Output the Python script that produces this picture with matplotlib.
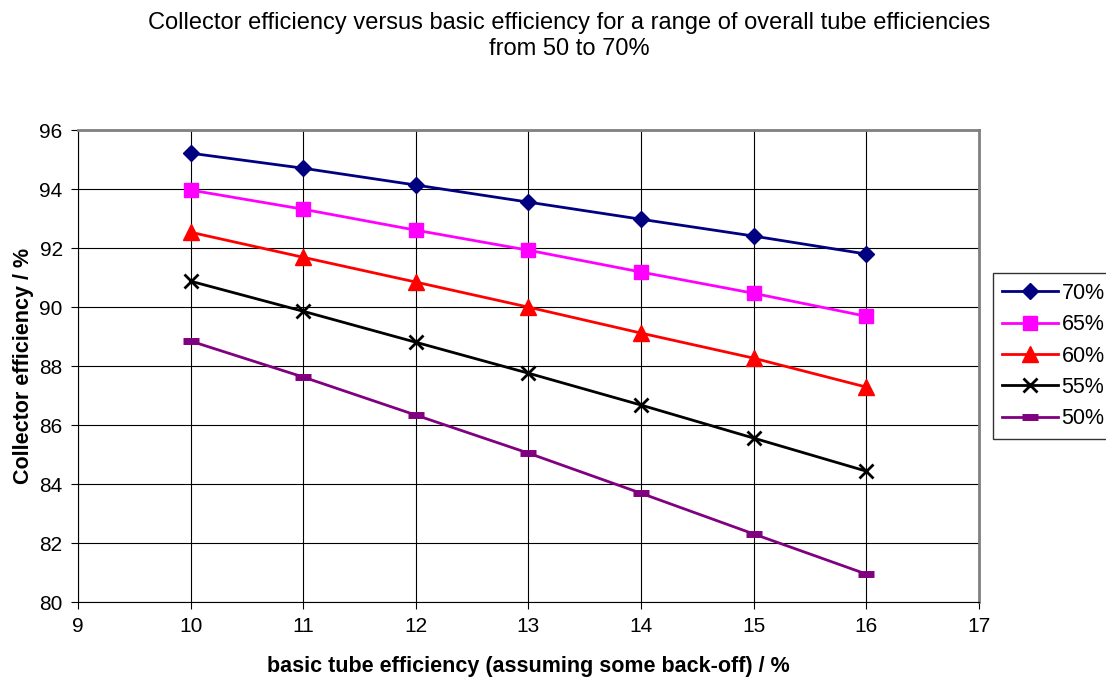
import matplotlib
matplotlib.use("Agg")
import matplotlib.pyplot as plt

plt.rcParams['font.family'] = ['Liberation Sans', 'DejaVu Sans']

basic_eff = [10, 11, 12, 13, 14, 15, 16]
eff_70 = [95.22, 94.71, 94.14, 93.56, 92.98, 92.41, 91.80]
eff_65 = [93.97, 93.32, 92.61, 91.93, 91.19, 90.47, 89.69]
eff_60 = [92.54, 91.69, 90.85, 90.00, 89.12, 88.27, 87.29]
eff_55 = [90.88, 89.86, 88.81, 87.76, 86.68, 85.56, 84.44]
eff_50 = [88.85, 87.63, 86.34, 85.05, 83.69, 82.31, 80.95]

fig = plt.figure(figsize=(11.06, 6.78), dpi=100)
ax = fig.add_axes([0.0705, 0.112, 0.8145, 0.696])

ax.plot(basic_eff, eff_70, color='#000080', lw=2, marker='D', ms=8, label='70%')
ax.plot(basic_eff, eff_65, color='#FF00FF', lw=2, marker='s', ms=10, label='65%')
ax.plot(basic_eff, eff_60, color='#FF0000', lw=2, marker='^', ms=11, label='60%')
ax.plot(basic_eff, eff_55, color='#000000', lw=2, marker='x', ms=10, mew=2, label='55%')
ax.plot(basic_eff, eff_50, color='#800080', lw=2, marker='_', ms=12, mew=5, label='50%')

ax.set_xlim(9, 17)
ax.set_ylim(80, 96)
ax.set_xticks(range(9, 18))
ax.set_yticks(range(80, 97, 2))
ax.grid(True, color='#000000', lw=0.8)
ax.set_axisbelow(True)
for s in ['top', 'right']:
    ax.spines[s].set_color('#808080')
    ax.spines[s].set_linewidth(2)
ax.tick_params(labelsize=15, direction='out', length=5, pad=6)

ax.set_xlabel('basic tube efficiency (assuming some back-off) / %', fontsize=15.5, fontweight='bold', labelpad=14)
ax.set_ylabel('Collector efficiency / %', fontsize=15.5, fontweight='bold', labelpad=4)

fig.suptitle('Collector efficiency versus basic efficiency for a range of overall tube efficiencies\nfrom 50 to 70%',
             fontsize=17, x=0.515, y=0.982, linespacing=1.2)

leg = ax.legend(loc='upper left', bbox_to_anchor=(1.0155, 0.697), fontsize=15.5, frameon=True,
                fancybox=False, edgecolor='#000000', borderpad=0.45, labelspacing=0.48,
                handlelength=2.6, handletextpad=0.15, borderaxespad=0)
leg.get_frame().set_linewidth(1)

fig.savefig('out.png', dpi=100)
